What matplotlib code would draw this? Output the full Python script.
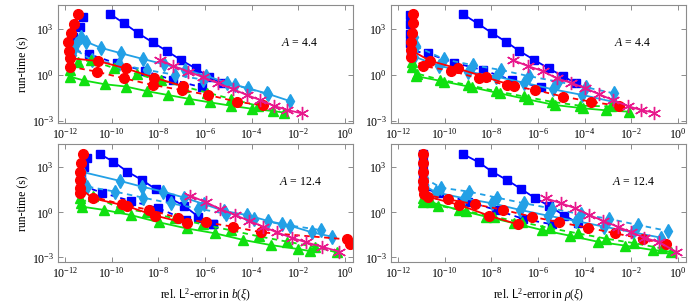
import numpy as np
import matplotlib
matplotlib.use('Agg')
import matplotlib.pyplot as plt

plt.rcParams['font.family'] = 'serif'
plt.rcParams['font.serif'] = ['Liberation Serif', 'DejaVu Serif']
plt.rcParams['mathtext.fontset'] = 'custom'
plt.rcParams['mathtext.rm'] = 'Liberation Serif'
plt.rcParams['mathtext.it'] = 'Liberation Serif:italic'
plt.rcParams['mathtext.sf'] = 'Liberation Sans'
plt.rcParams['mathtext.fallback'] = 'stix'

# values, as log10(error) and log10(run-time)

# --- top left: b(xi), A = 4.4
tl_blue_s_x = [-10.07, -9.46, -8.86, -8.24, -7.64, -7.03, -6.4, -5.81, -5.29]
tl_blue_s_y = [3.98, 3.37, 2.72, 2.13, 1.57, 0.98, 0.43, -0.15, -0.54]
tl_blue_d_x = [-11.21, -11.36, -11.64, -11.75, -10.96, -9.79, -8.57, -7.36, -6.14]
tl_blue_d_y = [3.8, 3.15, 2.5, 1.7, 1.35, 0.76, 0.26, -0.33, -0.8]
tl_lb_s_x = [-11.55, -11.33, -11.09, -10.47, -9.6, -8.67, -7.75, -6.85, -5.95, -5.07, -4.14, -3.36, -2.36]
tl_lb_s_y = [2.0, 2.5, 2.17, 1.78, 1.42, 1.05, 0.7, 0.35, -0.05, -0.5, -0.87, -1.2, -1.7]
tl_lb_d_x = [-11.7, -11.6, -10.86, -9.7, -8.5, -7.3, -6.1, -4.71, -3.3]
tl_lb_d_y = [1.3, 1.7, 0.98, 0.7, 0.33, 0.02, -0.3, -0.65, -1.26]
tl_green_s_x = [-11.8, -11.2, -10.3, -9.4, -8.5, -7.6, -6.7, -5.8, -4.9, -4.0, -3.1, -2.6]
tl_green_s_y = [-0.1, -0.35, -0.6, -0.75, -1.05, -1.3, -1.55, -1.78, -2.0, -2.2, -2.35, -2.45]
tl_green_d_x = [-11.8, -11.43, -10.87, -9.9, -8.9, -7.9, -6.9, -5.9, -4.9, -3.71]
tl_green_d_y = [0.33, 0.87, 0.95, 0.45, 0.05, -0.35, -0.75, -1.15, -1.55, -2.02]
tl_red_s_x = [-11.43, -11.61, -11.74, -11.86, -11.84, -11.8, -10.57, -9.39, -8.17, -6.96]
tl_red_s_y = [3.98, 3.33, 2.72, 2.17, 1.6, 1.1, 0.91, 0.43, -0.17, -0.72]
tl_red_d_x = [-11.8, -10.64, -9.46, -8.24, -7.0, -5.86, -4.64, -3.5]
tl_red_d_y = [0.55, 0.22, -0.22, -0.65, -0.98, -1.3, -1.74, -1.98]
tl_mag_x = [-7.93, -7.36, -6.71, -6.07, -5.43, -4.79, -4.21, -3.64, -3.04, -2.47, -1.86]
tl_mag_y = [0.98, 0.59, 0.22, -0.15, -0.54, -0.93, -1.3, -1.63, -2.02, -2.28, -2.5]

# --- top right: rho(xi), A = 4.4
tr_blue_s_x = [-9.23, -8.59, -7.99, -7.37, -6.8, -6.16, -5.54, -4.94, -4.37]
tr_blue_s_y = [3.98, 3.37, 2.76, 2.17, 1.57, 0.98, 0.43, -0.07, -0.54]
tr_blue_d_x = [-11.5, -11.5, -11.5, -11.5, -11.45, -10.73, -9.59, -8.37, -7.13, -5.87]
tr_blue_d_y = [3.9, 3.3, 2.7, 2.1, 1.6, 1.41, 0.8, 0.33, -0.33, -0.8]
tr_lb_s_x = [-11.35, -11.3, -10.23, -9.01, -7.8, -6.6, -5.37, -4.1, -2.8]
tr_lb_s_y = [1.6, 1.2, 0.59, 0.22, -0.1, -0.5, -0.93, -1.3, -1.74]
tr_lb_d_x = [-11.3, -11.25, -10.01, -8.8, -7.59, -6.4, -5.16, -3.95, -2.73]
tr_lb_d_y = [2.5, 1.9, 1.02, 0.65, 0.33, -0.07, -0.43, -0.8, -1.2]
tr_green_s_x = [-11.4, -11.23, -10.01, -8.83, -7.63, -6.44, -5.26, -4.06, -3.1, -2.11]
tr_green_s_y = [0.87, -0.07, -0.43, -0.8, -1.2, -1.59, -1.96, -2.17, -2.3, -2.39]
tr_green_d_x = [-11.4, -11.2, -10.2, -9.0, -7.8, -6.6, -5.4, -4.2, -2.87]
tr_green_d_y = [0.5, 0.1, -0.3, -0.65, -1.05, -1.4, -1.75, -2.0, -2.05]
tr_red_s_x = [-11.37, -11.37, -11.4, -11.43, -11.45, -10.63, -9.44, -8.23, -7.01]
tr_red_s_y = [3.98, 3.37, 2.76, 2.17, 1.63, 0.93, 0.43, -0.15, -0.72]
tr_red_d_x = [-11.45, -10.94, -9.73, -8.54, -7.34, -6.11, -4.91, -3.73, -2.54]
tr_red_d_y = [1.2, 0.59, 0.28, -0.22, -0.65, -0.98, -1.41, -1.74, -2.02]
tr_mag_x = [-7.09, -6.44, -5.8, -5.2, -4.59, -3.97, -3.37, -2.8, -2.16, -1.59, -1.01]
tr_mag_y = [0.98, 0.59, 0.26, -0.22, -0.5, -0.87, -1.26, -1.63, -2.02, -2.28, -2.46]

# --- bottom left: b(xi), A = 12.4
bl_blue_s_x = [-10.5, -9.93, -9.33, -8.71, -8.1, -7.5, -6.9, -6.29, -5.64]
bl_blue_s_y = [3.87, 3.38, 2.71, 2.16, 1.53, 0.93, 0.44, -0.29, -0.8]
bl_blue_d_x = [-11.04, -11.2, -11.3, -11.3, -10.43, -9.19, -8.0, -6.81, -5.64]
bl_blue_d_y = [3.64, 3.0, 2.4, 1.8, 1.31, 0.76, 0.27, -0.51, -0.8]
bl_lb_s_x = [-11.29, -9.64, -8.71, -7.79, -6.9, -6.05, -5.19, -4.21, -3.29, -2.36, -1.43, -0.57]
bl_lb_s_y = [2.7, 2.09, 1.71, 1.38, 0.98, 0.55, 0.09, -0.18, -0.58, -0.89, -1.33, -1.62]
bl_lb_d_x = [-11.29, -11.04, -9.86, -8.67, -7.47, -6.3, -5.1, -3.9, -2.7, -1.04]
bl_lb_d_y = [2.2, 1.71, 1.38, 0.98, 0.6, 0.25, -0.1, -0.45, -0.8, -1.18]
bl_green_s_x = [-11.36, -11.29, -10.33, -9.19, -7.96, -6.79, -5.57, -4.36, -3.19, -2.0, -1.5]
bl_green_s_y = [0.93, 0.38, 0.16, -0.18, -0.67, -1.07, -1.4, -1.84, -2.18, -2.45, -2.58]
bl_green_d_x = [-11.3, -10.79, -9.7, -8.5, -7.3, -6.1, -4.9, -3.7, -2.5, -1.3, -0.36]
bl_green_d_y = [0.6, 1.11, 0.3, 0.0, -0.4, -0.8, -1.2, -1.6, -1.95, -2.3, -2.67]
bl_red_s_x = [-11.24, -11.32, -11.37, -11.37, -11.34, -10.81, -9.36, -8.14, -6.79]
bl_red_s_y = [3.87, 3.27, 2.71, 2.16, 1.6, 0.93, 0.42, -0.22, -0.73]
bl_red_d_x = [-11.34, -9.57, -8.39, -7.17, -5.97, -4.79, -3.61, 0.07, 0.21]
bl_red_d_y = [1.27, 0.53, 0.16, -0.36, -0.67, -0.96, -1.33, -1.8, -2.13]
bl_mag_x = [-6.64, -5.96, -5.36, -4.71, -4.1, -3.5, -2.93, -2.29, -1.67, -1.0, -0.24]
bl_mag_y = [1.11, 0.67, 0.22, -0.18, -0.58, -0.96, -1.33, -1.69, -2.0, -2.29, -2.62]

# --- bottom right: rho(xi), A = 12.4
br_blue_s_x = [-9.2, -8.54, -7.97, -7.34, -6.73, -6.11, -5.54, -4.87, -4.3]
br_blue_s_y = [3.87, 3.33, 2.71, 2.16, 1.56, 0.93, 0.44, -0.22, -0.69]
br_blue_d_x = [-10.94, -10.94, -10.94, -10.94, -10.9, -10.23, -9.01, -7.8, -6.63, -5.4]
br_blue_d_y = [3.87, 3.27, 2.7, 2.1, 1.6, 1.27, 0.71, 0.16, -0.44, -0.8]
br_lb_s_x = [-10.9, -10.37, -9.16, -7.97, -6.77, -5.59, -4.37, -3.16, -1.94, -0.73]
br_lb_s_y = [1.8, 1.33, 0.93, 0.6, 0.16, -0.22, -0.58, -0.96, -1.33, -1.69]
br_lb_d_x = [-10.9, -10.16, -8.97, -7.77, -6.59, -5.4, -4.16, -2.94, -1.73, -0.44]
br_lb_d_y = [2.3, 1.64, 1.38, 0.98, 0.6, 0.25, -0.13, -0.44, -0.84, -1.24]
br_green_s_x = [-10.91, -10.59, -9.4, -8.23, -7.01, -5.83, -4.63, -3.44, -2.26, -1.09, -0.3]
br_green_s_y = [0.98, 0.67, 0.16, -0.29, -0.73, -1.18, -1.56, -1.96, -2.22, -2.51, -2.62]
br_green_d_x = [-10.91, -10.3, -9.1, -7.9, -6.7, -5.5, -4.3, -3.1, -1.9, -0.7]
br_green_d_y = [0.67, 0.45, 0.1, -0.3, -0.65, -1.05, -1.4, -1.75, -2.05, -2.4]
br_red_s_x = [-10.94, -10.94, -10.94, -10.94, -10.91, -10.73, -9.37, -8.11, -6.87]
br_red_s_y = [3.87, 3.27, 2.71, 2.09, 1.6, 1.04, 0.49, -0.22, -0.8]
br_red_d_x = [-10.9, -9.87, -8.69, -7.49, -6.26, -5.09, -3.87, -2.69, -1.49, -0.51]
br_red_d_y = [1.2, 0.87, 0.53, 0.16, -0.29, -0.67, -1.02, -1.4, -1.78, -2.11]
br_mag_x = [-5.66, -5.01, -4.4, -3.8, -3.2, -2.59, -2.01, -1.44, -0.8, -0.09]
br_mag_y = [0.93, 0.6, 0.27, -0.18, -0.58, -0.96, -1.33, -1.69, -2.0, -2.62]

panel_labels = ['$A$ = 4.4', '$A$ = 4.4', '$A$ = 12.4', '$A$ = 12.4']
x_titles = [r'rel. $\mathsf{L}^2$-error in $b(\xi)$', r'rel. $\mathsf{L}^2$-error in $\rho(\xi)$']

c_red = '#ff0000'
c_blue = '#0000ff'
c_lb = '#22a0e6'
c_green = '#10e010'
c_mag = '#e8188c'

# style per series: (colour, marker, markersize, dashed)
styles = {
    'blue_s': (c_blue, 's', 6.3, False),
    'blue_d': (c_blue, 's', 6.3, True),
    'lb_s': (c_lb, 'd', 7, False),
    'lb_d': (c_lb, 'd', 7, True),
    'green_s': (c_green, '^', 6.5, False),
    'green_d': (c_green, '^', 6.5, True),
    'red_s': (c_red, 'o', 7, False),
    'red_d': (c_red, 'o', 7, True),
    'mag': (c_mag, (6, 2, 0), 9.5, False),
}
order = ['blue_s', 'blue_d', 'lb_s', 'lb_d', 'green_s', 'green_d', 'red_s', 'red_d', 'mag']

g = globals()
fig = plt.figure(figsize=(6.96, 3.08), dpi=100)
boxes = [
    ('tl', [58/696, 185/308, 295/696, 118/308], (-3.13, 4.57)),
    ('tr', [391/696, 185/308, 295/696, 118/308], (-3.13, 4.57)),
    ('bl', [58/696, 46/308, 295/696, 118/308], (-3.31, 4.55)),
    ('br', [391/696, 46/308, 295/696, 118/308], (-3.31, 4.55)),
]
frame = '#8c8c8c'

for i, (p, rect, ylim) in enumerate(boxes):
    ax = fig.add_axes(rect)
    for name in order:
        col, mk, ms, dashed = styles[name]
        xs = 10.0 ** np.array(g[p + '_' + name + '_x'])
        ys = 10.0 ** np.array(g[p + '_' + name + '_y'])
        kw = dict(color=col, marker=mk, markersize=ms, lw=1.3,
                  markerfacecolor=col, markeredgecolor=col)
        if name == 'mag':
            kw['markeredgewidth'] = 1.0
        line, = ax.plot(xs, ys, **kw)
        if dashed:
            line.set_dashes((3, 2.5))
    ax.set_xscale('log')
    ax.set_yscale('log')
    ax.set_xlim(10 ** -12.3, 10 ** 0.34)
    ax.set_ylim(10 ** ylim[0], 10 ** ylim[1])
    ax.set_xticks([10.0 ** k for k in range(-12, 1, 2)])
    ax.set_xticklabels(['$10^{%d}$' % k for k in range(-12, 1, 2)])
    ax.set_yticks([1e-3, 1e0, 1e3])
    ax.set_yticklabels(['$10^{-3}$', '$10^{0}$', '$10^{3}$'])
    ax.minorticks_off()
    ax.tick_params(direction='in', top=True, right=True, length=3.5,
                   width=0.7, color=frame, labelsize=8.5, pad=3)
    for s in ax.spines.values():
        s.set_color(frame)
        s.set_linewidth(0.8)
    ax.text(0.82, 0.68, panel_labels[i], transform=ax.transAxes,
            ha='center', va='center', fontsize=8.5)
    if p in ('tl', 'bl'):
        ax.set_ylabel('run-time (s)', fontsize=8.5, labelpad=2)
    if p in ('bl', 'br'):
        ax.set_xlabel(x_titles[i - 2], fontsize=8.5, labelpad=4)

fig.savefig('out.png', dpi=100)
